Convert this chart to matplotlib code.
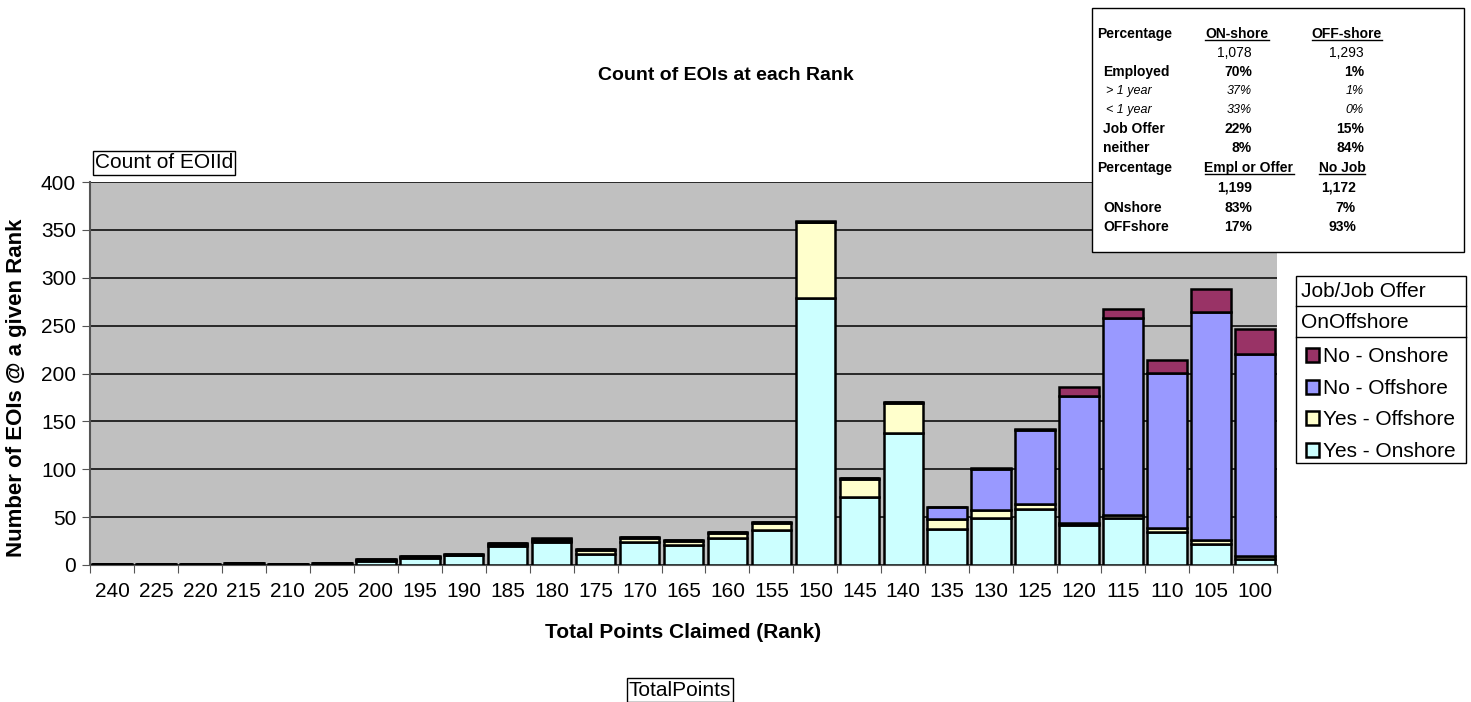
import matplotlib
matplotlib.use("Agg")
import matplotlib.pyplot as plt
from matplotlib.patches import Rectangle
from matplotlib.lines import Line2D
import numpy as np

plt.rcParams['font.family'] = ['Liberation Sans', 'DejaVu Sans']

# ---------------- DATA ----------------
ranks = ["240", "225", "220", "215", "210", "205", "200", "195", "190", "185",
         "180", "175", "170", "165", "160", "155", "150", "145", "140", "135",
         "130", "125", "120", "115", "110", "105", "100"]
yes_onshore = [1, 1, 1, 2, 1, 2, 4, 7, 10, 20, 24, 11, 24, 21, 28, 37, 279,
               71, 138, 38, 49, 59, 42, 49, 34, 22, 6]
yes_offshore = [0, 0, 0, 0, 0, 0, 1, 1, 0, 2, 1, 5, 4, 4, 5, 7, 79,
                19, 31, 10, 8, 5, 2, 3, 5, 4, 3]
no_offshore = [0, 0, 0, 0, 0, 0, 1, 1, 1, 1, 2, 1, 1, 1, 1, 1, 0,
               1, 1, 13, 43, 77, 132, 206, 162, 238, 211]
no_onshore = [0, 0, 0, 0, 0, 0, 0, 0, 0, 0, 1, 0, 0, 0, 0, 0, 1,
              0, 0, 0, 1, 1, 10, 9, 13, 24, 26]

series_names = ["Yes - Onshore", "Yes - Offshore", "No - Offshore", "No - Onshore"]
series_colors = ["#CCFFFF", "#FFFFCC", "#9999FF", "#993366"]

# summary table text (label, on-shore col, off-shore col, style)
table_rows = [
    ("Percentage", "ON-shore", "OFF-shore", "head"),
    ("", "1,078", "1,293", "num"),
    ("Employed", "70%", "1%", "bold"),
    ("> 1 year", "37%", "1%", "ital"),
    ("< 1 year", "33%", "0%", "ital"),
    ("Job Offer", "22%", "15%", "bold"),
    ("neither", "8%", "84%", "bold"),
    ("Percentage", "Empl or Offer", "No Job", "head"),
    ("", "1,199", "1,172", "bold"),
    ("ONshore", "83%", "7%", "bold"),
    ("OFFshore", "17%", "93%", "bold"),
]

# ---------------- FIGURE ----------------
W, H = 1471, 702
fig = plt.figure(figsize=(W / 100, H / 100), dpi=100)


# pixel -> figure fraction
def fx(x):
    return x / W


def fy(y):
    return 1 - y / H


ax = fig.add_axes([fx(90), fy(565), fx(1277) - fx(90), fy(182) - fy(565)])
ax.set_facecolor("#C0C0C0")

x = np.arange(len(ranks))
bottom = np.zeros(len(ranks))
handles = []
for vals, name, col in zip([yes_onshore, yes_offshore, no_offshore, no_onshore],
                           series_names, series_colors):
    b = ax.bar(x, vals, width=0.9, bottom=bottom, color=col, edgecolor="black",
               linewidth=1.8, label=name, zorder=3)
    handles.append(b)
    bottom += np.array(vals)

ax.set_xlim(-0.5, len(ranks) - 0.5)
ax.set_ylim(0, 400)
ax.set_yticks(range(0, 401, 50))
ax.set_xticks(np.arange(len(ranks) + 1) - 0.5)
ax.set_xticklabels([])
ax.set_xticks(x, minor=True)
ax.set_xticklabels(ranks, minor=True)
ax.tick_params(axis="x", which="minor", length=0, labelsize=15, pad=12)
ax.tick_params(axis="x", which="major", length=6, direction="out", color="#555555")
ax.tick_params(axis="y", labelsize=15, length=6, color="#555555", pad=4)
ax.yaxis.grid(True, color="black", linewidth=1.1, zorder=1)
ax.set_axisbelow(True)
for s in ["top", "right"]:
    ax.spines[s].set_visible(False)
ax.spines["left"].set_color("#555555")
ax.spines["left"].set_linewidth(1.5)
ax.spines["bottom"].set_color("#555555")

fig.text(fx(17), fy(388), "Number of EOIs @ a given Rank", rotation=90, fontsize=16,
         fontweight="bold", ha="center", va="center")
fig.text(fx(683), fy(633), "Total Points Claimed (Rank)", fontsize=15,
         fontweight="bold", ha="center", va="center")
fig.text(fx(726), fy(75), "Count of EOIs at each Rank", fontsize=14,
         fontweight="bold", ha="center", va="center")

# field buttons
fig.text(fx(95), fy(163), "Count of EOIId", fontsize=15, ha="left", va="center",
         bbox=dict(boxstyle="square,pad=0.1", fc="white", ec="black", lw=1))
fig.text(fx(680), fy(690), "TotalPoints", fontsize=15, ha="center", va="center",
         bbox=dict(boxstyle="square,pad=0.1", fc="white", ec="black", lw=1))

# legend with header boxes
lx0, lx1, ly0, ly1 = 1296, 1466, 276, 463
fig.patches.append(Rectangle((fx(lx0), fy(ly1)), fx(lx1) - fx(lx0), fy(ly0) - fy(ly1),
                             transform=fig.transFigure, fc="white", ec="black",
                             lw=1, zorder=5))
for yy in [306, 337]:
    fig.lines.append(Line2D([fx(lx0), fx(lx1)], [fy(yy), fy(yy)],
                            transform=fig.transFigure, color="black", lw=1, zorder=6))
fig.text(fx(lx0 + 5), fy(291), "Job/Job Offer", fontsize=15, ha="left", va="center", zorder=7)
fig.text(fx(lx0 + 5), fy(322), "OnOffshore", fontsize=15, ha="left", va="center", zorder=7)
leg = fig.legend(handles[::-1], series_names[::-1], loc="upper left",
                 bbox_to_anchor=(fx(lx0 - 3), fy(335)), frameon=False, fontsize=15,
                 handlelength=0.65, handleheight=0.65, handletextpad=0.2,
                 labelspacing=0.6, borderaxespad=0.2)
leg.set_zorder(8)

# summary table
tx0, tx1, ty0, ty1 = 1092, 1464, 8, 252
fig.patches.append(Rectangle((fx(tx0), fy(ty1)), fx(tx1) - fx(tx0), fy(ty0) - fy(ty1),
                             transform=fig.transFigure, fc="white", ec="black",
                             lw=1, zorder=5))
row_y = [34, 53, 72, 91, 110, 129, 148, 168, 188, 208, 227]
underline = []
for i, (lab, c1, c2, style) in enumerate(table_rows):
    yy = fy(row_y[i])
    weight = "normal" if style in ("num", "ital") else "bold"
    fstyle = "italic" if style == "ital" else "normal"
    size = 9 if style == "ital" else 10
    lab_x = 1097 if lab == "Percentage" else (1106 if style == "ital" else 1103)
    fig.text(fx(lab_x), yy, lab, fontsize=size, fontweight="bold" if style != "ital" else "normal",
             style=fstyle, ha="left", va="center", zorder=7)
    if style == "head":
        centers = (1237, 1347) if i == 0 else (1249, 1342)
        t1 = fig.text(fx(centers[0]), yy, c1, fontsize=10, fontweight="bold",
                      ha="center", va="center", zorder=7)
        t2 = fig.text(fx(centers[1]), yy, c2, fontsize=10, fontweight="bold",
                      ha="center", va="center", zorder=7)
        underline += [t1, t2]
    else:
        rights = (1252, 1364) if i < 7 else (1252, 1356)
        fig.text(fx(rights[0]), yy, c1, fontsize=size, fontweight=weight, style=fstyle,
                 ha="right", va="center", zorder=7)
        fig.text(fx(rights[1]), yy, c2, fontsize=size, fontweight=weight, style=fstyle,
                 ha="right", va="center", zorder=7)

# underline the column headers
fig.canvas.draw()
inv = fig.transFigure.inverted()
for t in underline:
    bb = t.get_window_extent().transformed(inv)
    fig.lines.append(Line2D([bb.x0, bb.x1], [bb.y0 + 0.001, bb.y0 + 0.001],
                            transform=fig.transFigure, color="black", lw=1, zorder=7))

fig.savefig("out.png", dpi=100)
